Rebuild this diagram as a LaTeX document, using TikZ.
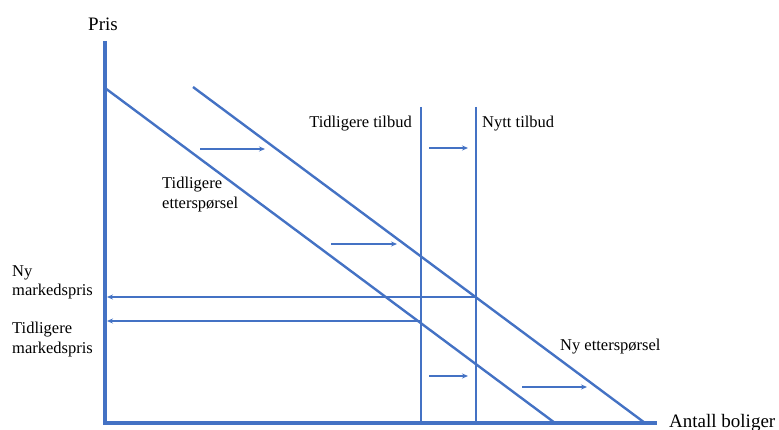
\documentclass[tikz,border=0pt]{standalone}
\usepackage{fontspec}
\setmainfont{Liberation Serif}
\usetikzlibrary{arrows.meta}
\definecolor{lineblue}{RGB}{68,114,196}
\begin{document}
\begin{tikzpicture}[x=1pt,y=-1pt,
  axis/.style={lineblue, line width=3.5pt},
  curve/.style={lineblue, line width=2.4pt},
  movearrow/.style={-{Stealth[length=6pt,width=5pt]}, lineblue, line width=1.1pt},
  lbl/.style={font=\fontsize{16.5}{19.5}\selectfont, inner sep=0pt, align=left},
  axislbl/.style={font=\fontsize{19}{22}\selectfont, inner sep=0pt}]
\useasboundingbox (0,0) rectangle (779,430);

% Axes
\coordinate (ytop) at (105,41);
\coordinate (origin) at (105,423);
\coordinate (xend) at (657,423);
\draw[axis] (ytop) -- (origin) -- (xend);
\node[axislbl, anchor=base] (pris) at (103,31) {Pris};
\node[axislbl, anchor=base west] (antall) at (669,427) {Antall boliger};

% Demand curves
\coordinate (dold-a) at (105,88);
\coordinate (dold-b) at (555,423);
\coordinate (dnew-a) at (193,87);
\coordinate (dnew-b) at (645,423);
\draw[curve] (dold-a) -- (dold-b);
\draw[curve] (dnew-a) -- (dnew-b);

% Supply curves
\coordinate (sold-a) at (421,107);
\coordinate (sold-b) at (421,423);
\coordinate (snew-a) at (476,107);
\coordinate (snew-b) at (476,423);
\draw[curve] (sold-a) -- (sold-b);
\draw[curve] (snew-a) -- (snew-b);

% Market prices
\coordinate (eqnew) at (476,297);
\coordinate (eqold) at (421,321);
\coordinate (pnew) at (107,297);
\coordinate (pold) at (107,321);
\draw[movearrow] (eqnew) -- (pnew);
\draw[movearrow] (eqold) -- (pold);

% Shift arrows
\foreach \a/\b/\y in {200/265/149, 331/397/244, 429/468/148, 429/468/376, 522/587/387} {
    \coordinate (s1) at (\a,\y);
    \coordinate (s2) at (\b,\y);
    \draw[movearrow] (s1) -- (s2);
}

% Labels
\node[lbl, anchor=base east] (toldlbl) at (412,128) {Tidligere tilbud};
\node[lbl, anchor=base west] (tnewlbl) at (482,128) {Nytt tilbud};
\node[lbl, anchor=north west] (doldlbl) at (162,177) {Tidligere\\etterspørsel};
\node[lbl, anchor=base west] (dnewlbl) at (560,350) {Ny etterspørsel};
\node[lbl, anchor=north west] (pnewlbl) at (12,265) {Ny\\markedspris};
\node[lbl, anchor=north west] (poldlbl) at (12,322) {Tidligere\\markedspris};

\end{tikzpicture}
\end{document}
